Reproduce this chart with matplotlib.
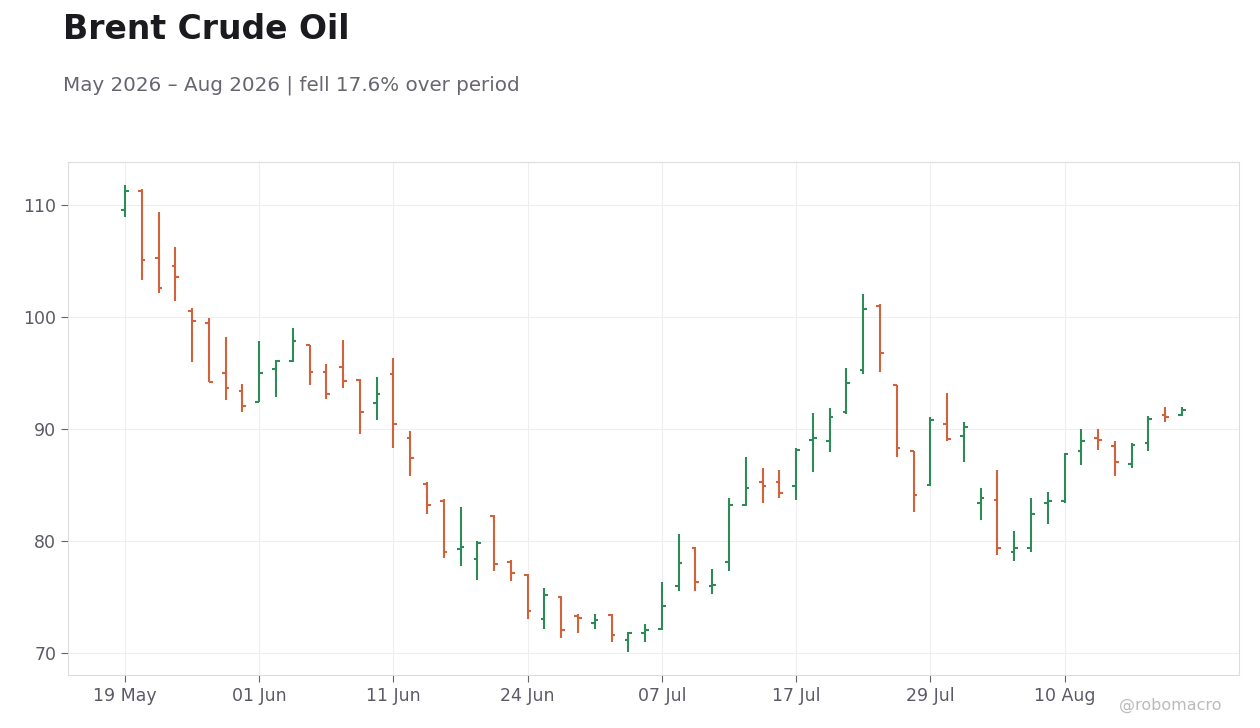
import matplotlib
matplotlib.use("Agg")
import matplotlib.pyplot as plt
import numpy as np
import pandas as pd

# daily OHLC, US trading days 19 May - 19 Aug 2026
holidays = ["2026-05-25", "2026-06-19", "2026-07-03"]
dates = pd.bdate_range("2026-05-19", "2026-08-19", freq="C", holidays=holidays)

opens = [109.6, 111.3, 105.3, 104.6, 100.55, 99.45, 95.0, 93.4, 92.45, 95.4,
         96.05, 97.5, 95.1, 95.55, 94.4, 92.3, 94.9, 89.25, 85.05, 83.55,
         79.25, 78.35, 82.2, 78.1, 77.0, 73.05, 74.95, 73.25, 72.7, 73.35,
         71.1, 71.8, 72.1, 76.0, 79.4, 75.95, 78.1, 83.25, 85.25, 85.25,
         84.9, 89.0, 88.9, 91.5, 95.25, 101.0, 93.9, 88.0, 85.0, 90.5,
         89.35, 83.35, 83.65, 79.0, 79.4, 83.35, 83.55, 88.0, 89.25, 88.45,
         86.85, 88.75, 91.3, 91.3]
highs = [111.8, 111.5, 109.4, 106.3, 100.8, 99.9, 98.2, 94.0, 97.85, 96.2,
         99.0, 97.55, 95.85, 98.0, 94.5, 94.7, 96.4, 89.85, 85.3, 83.75,
         83.0, 80.0, 82.3, 78.3, 77.05, 75.8, 75.05, 73.5, 73.5, 73.5,
         71.9, 72.6, 76.35, 80.6, 79.5, 77.5, 83.85, 87.55, 86.55, 86.3,
         88.3, 91.4, 91.9, 95.5, 102.05, 101.15, 93.95, 88.05, 91.05, 93.2,
         90.6, 84.7, 86.3, 80.9, 83.8, 84.4, 87.9, 90.05, 90.05, 88.95,
         88.8, 91.2, 92.0, 92.0]
lows = [108.95, 103.3, 102.15, 101.45, 96.0, 94.2, 92.6, 91.5, 92.4, 92.85,
        96.0, 93.9, 92.65, 93.65, 89.6, 90.8, 88.35, 85.8, 82.4, 78.45,
        77.8, 76.55, 77.3, 76.45, 73.05, 72.1, 71.35, 71.8, 72.1, 71.0,
        70.1, 71.0, 72.05, 75.5, 75.55, 75.3, 77.3, 83.1, 83.35, 83.8,
        83.7, 86.15, 87.95, 91.35, 94.9, 95.15, 87.5, 82.55, 84.95, 88.9,
        87.05, 81.85, 78.7, 78.2, 79.0, 81.5, 83.35, 86.75, 88.1, 85.85,
        86.5, 88.0, 90.6, 91.2]
closes = [111.3, 105.1, 102.6, 103.6, 99.65, 94.25, 93.7, 92.05, 95.0, 96.05,
          97.85, 95.1, 93.1, 94.3, 91.5, 93.1, 90.45, 87.4, 83.2, 79.0,
          79.5, 79.85, 77.9, 77.1, 73.7, 75.2, 72.0, 73.15, 72.9, 71.55,
          71.8, 72.0, 74.15, 78.0, 76.3, 76.05, 83.25, 84.7, 84.95, 84.25,
          88.1, 89.25, 91.05, 94.1, 100.7, 96.8, 88.35, 84.1, 90.8, 89.1,
          90.15, 83.8, 79.35, 79.4, 82.45, 83.55, 87.75, 88.9, 89.0, 87.1,
          88.55, 90.9, 91.05, 91.7]

UP = "#2e8b57"
DOWN = "#d0633c"

o = np.array(opens)
h = np.array(highs)
l = np.array(lows)
c = np.array(closes)
x = np.arange(len(dates))
cols = np.where(c >= o, UP, DOWN)
tw = 0.22

fig = plt.figure(figsize=(12.6, 7.28), dpi=100)
ax = fig.add_axes([0.054, 0.0728, 0.9293, 0.7047])

ax.vlines(x, l, h, colors=cols, linewidth=1.5, zorder=3)
ax.hlines(o, x - tw, x, colors=cols, linewidth=1.5, zorder=3)
ax.hlines(c, x, x + tw, colors=cols, linewidth=1.5, zorder=3)

ax.set_xticks(x[::8])
ax.set_xticklabels([d.strftime("%d %b") for d in dates[::8]])
ax.set_yticks([70, 80, 90, 100, 110])
ax.grid(True, color="#eeeeee", linewidth=0.8, zorder=0)
ax.set_axisbelow(True)
for s in ax.spines.values():
    s.set_color("#dddddd")
ax.tick_params(colors="#666666", labelsize=12.5, length=5, width=0.8)
for lab in ax.get_xticklabels() + ax.get_yticklabels():
    lab.set_color("#5a5a66")

pct = (c[-1] / c[0] - 1) * 100
fig.text(0.05, 0.96, "Brent Crude Oil", fontsize=23.8, fontweight="bold",
         color="#1a1a1f", va="center")
fig.text(0.05, 0.883, "%s – %s | fell %.1f%% over period"
         % (dates[0].strftime("%b %Y"), dates[-1].strftime("%b %Y"), abs(pct)),
         fontsize=14.3, color="#666670", va="center")
fig.text(0.9695, 0.031, "@robomacro", fontsize=11.5, color="#bbbbbb",
         ha="right", va="center")

fig.savefig("out.png", dpi=100)
